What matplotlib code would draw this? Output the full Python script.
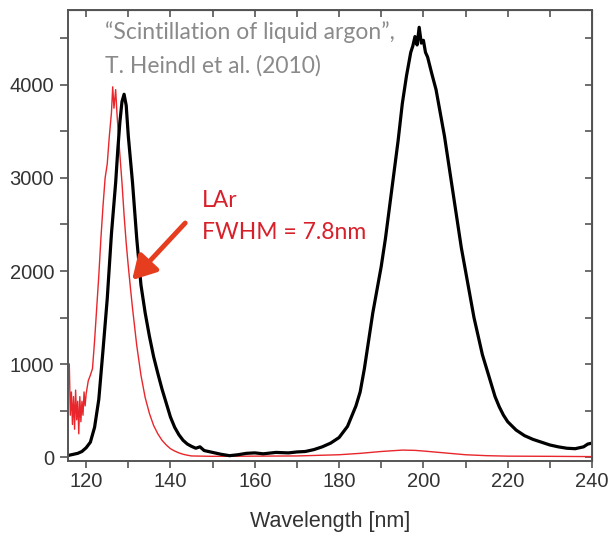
import matplotlib.pyplot as plt
from matplotlib.ticker import MultipleLocator

plt.rcParams['font.family'] = ['Liberation Sans', 'DejaVu Sans']

# black spectrum (wavelength in nm, counts)
black_nm = [116, 117, 118, 119, 120, 121, 122, 123, 124, 125, 126, 127, 127.5, 128, 128.5, 129, 129.5,
            130, 130.5, 131, 132, 133, 134, 135, 136, 137, 138, 139, 140, 141, 142, 143, 144, 145,
            146, 147, 148, 150, 152, 154, 156, 158, 160, 162, 165, 168, 170, 172, 174, 176, 178,
            180, 182, 184, 185, 186, 187, 188, 189, 190, 191, 192, 193, 194, 195, 196, 197, 197.5,
            198, 198.5, 199, 199.5, 200, 200.5, 201, 202, 203, 204, 205, 206, 207, 208, 209, 210,
            211, 212, 213, 214, 215, 216, 217, 218, 219, 220, 222, 224, 226, 228, 230, 232, 234,
            236, 238, 239, 240]
black_val = [20, 30, 40, 60, 100, 160, 320, 620, 1150, 1700, 2400, 2950, 3300, 3600, 3820, 3900, 3780,
             3450, 3200, 2950, 2350, 1850, 1550, 1300, 1080, 900, 730, 580, 430, 320, 240, 180, 140, 115,
             95, 110, 70, 50, 30, 15, 25, 40, 45, 35, 50, 45, 55, 60, 80, 110, 150,
             210, 330, 550, 700, 950, 1250, 1550, 1800, 2050, 2350, 2700, 3050, 3400, 3800, 4100, 4350, 4420,
             4520, 4430, 4620, 4450, 4480, 4350, 4300, 4120, 3950, 3700, 3450, 3150, 2850, 2550, 2250, 2000,
             1750, 1500, 1300, 1100, 950, 800, 650, 540, 450, 380, 290, 230, 190, 160, 130, 110, 95,
             90, 110, 140, 150]

# red spectrum (LAr)
red_nm = [116, 116.25, 116.5, 116.75, 117, 117.25, 117.5, 117.75, 118, 118.25, 118.5, 118.75, 119,
          119.25, 119.5, 119.75, 120, 120.5, 121, 121.5, 122, 122.5, 123, 123.5, 124, 124.5, 125,
          125.5, 126, 126.3, 126.6, 127, 127.3, 127.6, 128, 128.5, 129, 129.5, 130, 130.5, 131,
          132, 133, 134, 135, 136, 137, 138, 139, 140, 141, 142, 143, 144, 145, 150, 160, 170,
          180, 185, 190, 195, 198, 200, 205, 210, 215, 220, 230, 240]
red_val = [1000, 450, 700, 350, 650, 300, 720, 400, 600, 250, 650, 380, 600, 450, 700, 550, 680, 820,
           880, 950, 1250, 1600, 1950, 2350, 2700, 3000, 3150, 3450, 3700, 3980, 3750, 3950, 3700,
           3500, 3250, 2950, 2600, 2300, 2050, 1820, 1600, 1200, 880, 640, 470, 340, 250, 180,
           130, 90, 65, 45, 30, 20, 12, 8, 10, 12, 25, 40, 60, 75, 72, 65, 45, 25, 15, 10, 8, 5]

x_ticks = [120, 140, 160, 180, 200, 220, 240]
y_ticks = [0, 1000, 2000, 3000, 4000]

fig = plt.figure(figsize=(6.09, 5.45), dpi=100)
ax = fig.add_axes([0.1117, 0.154, 0.8604, 0.8277])

ax.plot(red_nm, red_val, color='#e8262b', lw=1.0)
ax.plot(black_nm, black_val, color='black', lw=2.3)

ax.set_xlim(115.7, 240)
ax.set_ylim(-43, 4806)
ax.set_xticks(x_ticks)
ax.set_yticks(y_ticks)
ax.xaxis.set_minor_locator(MultipleLocator(10))
ax.yaxis.set_minor_locator(MultipleLocator(500))

for s in ax.spines.values():
    s.set_color('#555555')
    s.set_linewidth(1.4)

ax.tick_params(which='both', direction='out', colors='#555555', labelcolor='#333333',
               labelsize=14.5, width=1.2)
ax.tick_params(axis='x', which='both', length=5, pad=3)
ax.tick_params(axis='y', which='both', length=6, pad=4)
# inward ticks on the top and right edges
ax_top = ax.secondary_xaxis('top')
ax_top.set_xticks(list(range(120, 241, 10)))
ax_top.tick_params(direction='in', length=5, width=1.2, colors='#555555', labeltop=False)
ax_right = ax.secondary_yaxis('right')
ax_right.set_yticks(list(range(0, 4501, 500)))
ax_right.tick_params(direction='in', length=5, width=1.2, colors='#555555', labelright=False)

ax.set_xlabel('Wavelength [nm]', fontsize=15.5, color='#333333', labelpad=14)

ax.text(124.5, 4495, '\u201cScintillation of liquid argon\u201d,', fontsize=16.5, color='#8a8a8a',
        family='Lato', va='baseline')
ax.text(124.5, 4129, 'T. Heindl et al. (2010)', fontsize=16.5, color='#8a8a8a',
        family='Lato', va='baseline')
ax.text(147.5, 2688, 'LAr', fontsize=16.5, color='#d8202a', family='Lato', va='baseline')
ax.text(147.5, 2344, 'FWHM = 7.8nm', fontsize=16.5, color='#d8202a', family='Lato', va='baseline')

ax.annotate('', xy=(130.9, 1903), xytext=(143.5, 2516),
            arrowprops=dict(arrowstyle='-|>,head_length=0.7,head_width=0.4', lw=3.5,
                            color='#e63d1f', mutation_scale=20, shrinkA=0, shrinkB=0))

fig.savefig('out.png', dpi=100)
